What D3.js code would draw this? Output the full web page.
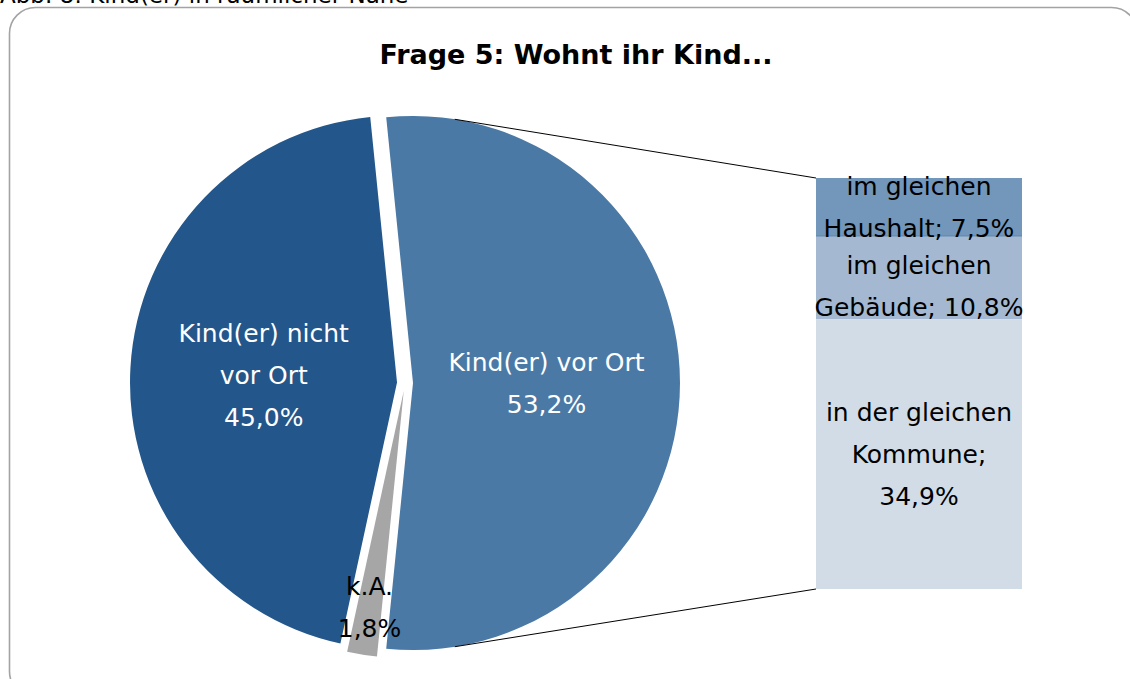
<!DOCTYPE html>
<html>
<head>
<meta charset="utf-8">
<script src="https://cdn.jsdelivr.net/npm/d3@7"></script>
<style>
  html, body { margin: 0; padding: 0; background: #fff; overflow: hidden; }
  svg { display: block; }
  text { font-family: "DejaVu Sans", Verdana, sans-serif; }
</style>
</head>
<body>
<svg id="chart" width="1130" height="679"></svg>
<script>
// ---- data ----
const captionText = "Abb. 8: Kind(er) in räumlicher Nähe";
const titleText = "Frage 5: Wohnt ihr Kind...";

const pieCategories = ["Kind(er) vor Ort", "k.A.", "Kind(er) nicht vor Ort"];
const pieValues = [53.2, 1.8, 45.0];
const pieLabelLines = [["Kind(er) vor Ort", "53,2%"], ["k.A.", "1,8%"], ["Kind(er) nicht", "vor Ort", "45,0%"]];

const barCategories = ["im gleichen Haushalt", "im gleichen Gebäude", "in der gleichen Kommune"];
const barValues = [7.5, 10.8, 34.9];
const barLabelLines = [["im gleichen", "Haushalt; 7,5%"], ["im gleichen", "Gebäude; 10,8%"], ["in der gleichen", "Kommune;", "34,9%"]];

// ---- styles / layout ----
const pieColors = ["#4b79a5", "#a6a6a6", "#23568a"];
const pieTextColors = ["#ffffff", "#000000", "#ffffff"];
const pieLabelRadius = [0.5, 0.82, 0.5];
const pieLabelDy = [0, 0, 0];
const barColors = ["#7396bb", "#a4b9d1", "#d1dce7"];
const barLabelDy = [0, 8, 0];

const svg = d3.select("#chart");

// frame
svg.append("rect")
  .attr("x", 9.5).attr("y", 7.5).attr("width", 1128).attr("height", 690)
  .attr("rx", 26).attr("ry", 26)
  .attr("fill", "#fff").attr("stroke", "#a3a3a3").attr("stroke-width", 1.6);

// caption (cut off at top in the reference)
svg.append("text")
  .attr("x", 0).attr("y", 3)
  .attr("font-size", 23).attr("fill", "#000")
  .text(captionText);

// title
svg.append("text")
  .attr("x", 576).attr("y", 64)
  .attr("text-anchor", "middle")
  .attr("font-size", 27).attr("font-weight", "bold").attr("fill", "#000")
  .text(titleText);

// ---- pie ----
const cx = 405, cy = 383, r = 267, explode = 8;
const total = d3.sum(pieValues);
const firstSpan = pieValues[0] / total * 2 * Math.PI;
const pie = d3.pie().sort(null).value(d => d)
  .startAngle(Math.PI / 2 - firstSpan / 2)
  .endAngle(Math.PI / 2 - firstSpan / 2 + 2 * Math.PI);
const arcs = pie(pieValues);
const arc = d3.arc().innerRadius(0).outerRadius(r);

const pieG = svg.append("g").attr("transform", `translate(${cx},${cy})`);

function offsetOf(a, dist) {
  const m = (a.startAngle + a.endAngle) / 2;
  return [Math.sin(m) * dist, -Math.cos(m) * dist];
}

const slices = pieG.selectAll("g.slice").data(arcs).join("g")
  .attr("class", "slice")
  .attr("transform", d => { const o = offsetOf(d, explode); return `translate(${o[0]},${o[1]})`; });

slices.append("path")
  .attr("d", arc)
  .attr("fill", (d, i) => pieColors[i]);

// ---- bar ----
const barX = 816, barW = 206, barTop = 178, barBottom = 589;
const yScale = d3.scaleLinear().domain([0, d3.sum(barValues)]).range([barTop, barBottom]);
const stackStarts = barValues.map((v, i) => d3.sum(barValues.slice(0, i)));

// connector lines
const connAngle = 9 * Math.PI / 180;
const main = arcs[0];
const mo = offsetOf(main, explode);
const topPt = [cx + mo[0] + r * Math.sin(connAngle), cy + mo[1] - r * Math.cos(connAngle)];
const botPt = [cx + mo[0] + r * Math.sin(Math.PI - connAngle), cy + mo[1] - r * Math.cos(Math.PI - connAngle)];
svg.append("line").attr("x1", topPt[0]).attr("y1", topPt[1]).attr("x2", barX).attr("y2", yScale(0))
  .attr("stroke", "#000").attr("stroke-width", 1);
svg.append("line").attr("x1", botPt[0]).attr("y1", botPt[1]).attr("x2", barX).attr("y2", yScale(d3.sum(barValues)))
  .attr("stroke", "#000").attr("stroke-width", 1);

const barG = svg.append("g");
barG.selectAll("rect").data(barValues).join("rect")
  .attr("x", barX)
  .attr("y", (d, i) => yScale(stackStarts[i]))
  .attr("width", barW)
  .attr("height", (d, i) => yScale(stackStarts[i] + d) - yScale(stackStarts[i]))
  .attr("fill", (d, i) => barColors[i]);
// thin separator under first segment
barG.append("line")
  .attr("x1", barX).attr("x2", barX + barW)
  .attr("y1", yScale(barValues[0])).attr("y2", yScale(barValues[0]))
  .attr("stroke", "#5a82ad").attr("stroke-width", 1);

// ---- labels ----
const lineH = 42, fs = 25;
arcs.forEach((a, i) => {
  const m = (a.startAngle + a.endAngle) / 2;
  const o = offsetOf(a, explode);
  const lx = cx + o[0] + Math.sin(m) * r * pieLabelRadius[i];
  const ly = cy + o[1] - Math.cos(m) * r * pieLabelRadius[i] + pieLabelDy[i];
  const lines = pieLabelLines[i];
  const t = svg.append("text").attr("text-anchor", "middle").attr("font-size", fs).attr("fill", pieTextColors[i]);
  lines.forEach((s, j) => {
    t.append("tspan").attr("x", lx).attr("y", ly + (j - (lines.length - 1) / 2) * lineH + 9).text(s);
  });
});

barValues.forEach((v, i) => {
  const lx = barX + barW / 2;
  const ly = (yScale(stackStarts[i]) + yScale(stackStarts[i] + v)) / 2 + barLabelDy[i];
  const lines = barLabelLines[i];
  const t = svg.append("text").attr("text-anchor", "middle").attr("font-size", fs).attr("fill", "#000");
  lines.forEach((s, j) => {
    t.append("tspan").attr("x", lx).attr("y", ly + (j - (lines.length - 1) / 2) * lineH + 9).text(s);
  });
});
</script>
</body>
</html>
